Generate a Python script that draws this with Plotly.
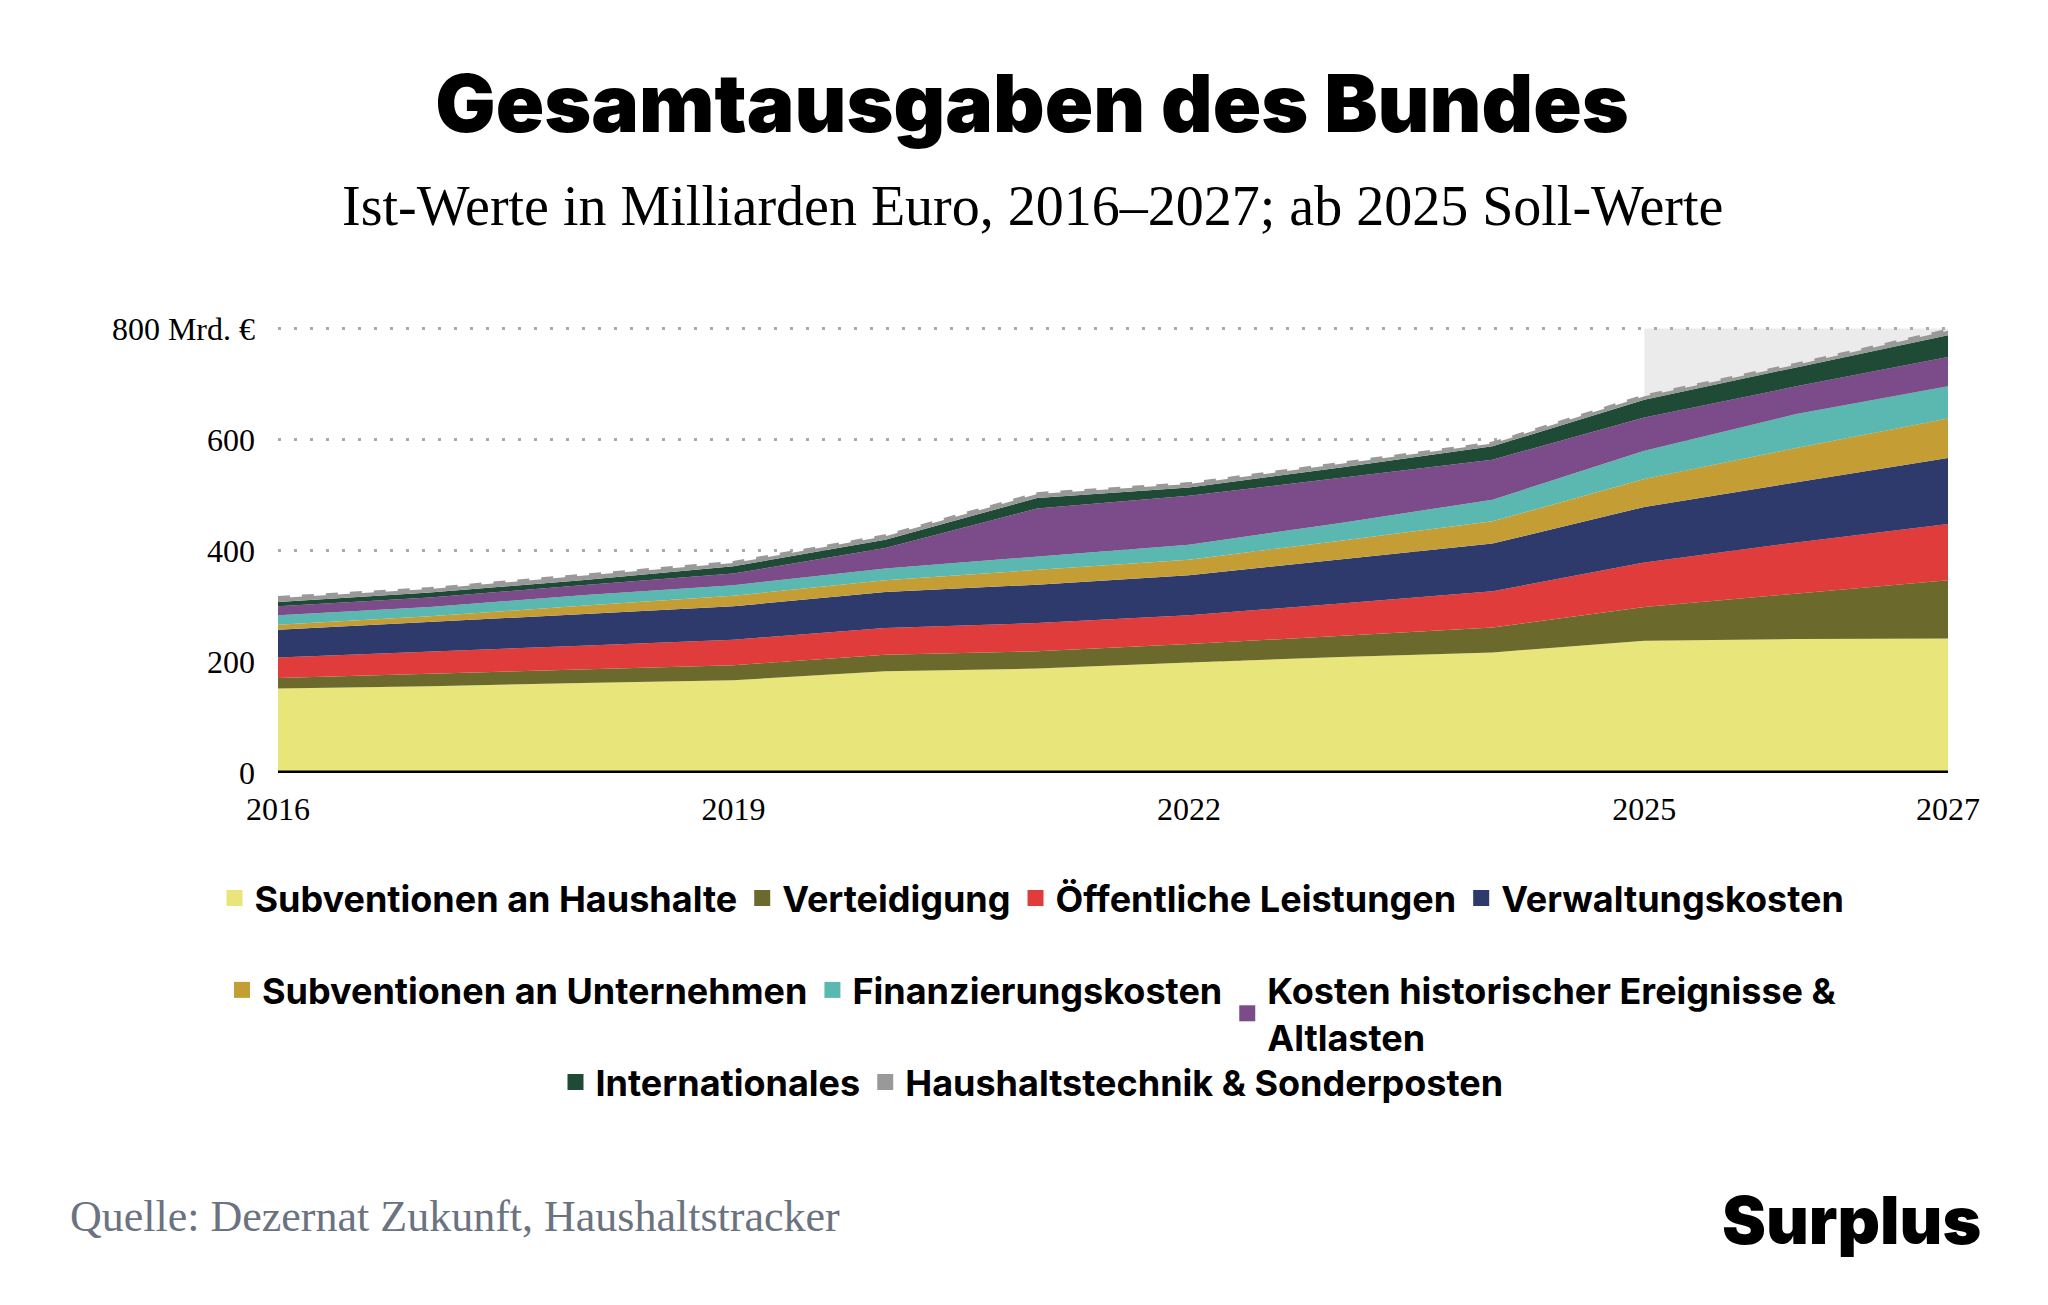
import plotly.graph_objects as go

years = list(range(2016, 2028))
haushalte = [152,156,162,167,183,188,199,209,217,238,241,242]
verteidigung = [19,23,25,27,30,31,33,38,45,61,82,105]
leistungen = [37,39,42,46,48,51,52,58,65,80,92,101]
verwaltung = [50,54,56,60,65,69,72,80,86,100,108,119]
unternehmen = [9,10,16,19,21,26,28,33,40,50,62,71]
finanzierung = [17,17,19,19,21,25,27,32,39,51,61,58]
historisch = [16,17,18,21,37,86,88,82,72,60,50,53]
international = [8,9,9,13,15,19,15,18,24,32,34,39]
technik = [7,6,8,6,6,7,6,6,5,6,5,8]

series = [
    ("Subventionen an Haushalte", haushalte, "#e8e67a", "legend"),
    ("Verteidigung", verteidigung, "#6b6a2c", "legend"),
    ("Öffentliche Leistungen", leistungen, "#e03c3c", "legend"),
    ("Verwaltungskosten", verwaltung, "#2d3a6b", "legend"),
    ("Subventionen an Unternehmen", unternehmen, "#c49e35", "legend2"),
    ("Finanzierungskosten", finanzierung, "#5bb8b0", "legend2"),
    ("Kosten historischer Ereignisse &<br>Altlasten", historisch, "#7b4b8a", "legend2"),
    ("Internationales", international, "#1f4a36", "legend3"),
    ("Haushaltstechnik & Sonderposten", technik, "#999999", "legend3"),
]

L, R, T, B = 270, 108, 315, 540
W, H = 2048, 1305
ph = H - T - B
pw = W - L - R
bottom = H - B

fig = go.Figure()
for name, vals, col, lg in series:
    last = name.startswith("Haushaltstechnik")
    fig.add_trace(go.Scatter(
        x=years, y=vals, name=name, stackgroup="one", mode="lines",
        fillcolor=col, showlegend=False,
        line=dict(width=4 if last else 0, color="#999999" if last else col, dash="dash"),
        hoverinfo="skip",
    ))
for name, vals, col, lg in series:
    fig.add_trace(go.Scatter(
        x=[None], y=[None], name=name, mode="markers", legend=lg,
        marker=dict(symbol="square", size=28, color=col),
    ))

fig.add_shape(type="rect", xref="x", yref="y", x0=2025, x1=2027, y0=0, y1=800,
              fillcolor="#ebebeb", line_width=0, layer="below")
fig.add_shape(type="line", xref="paper", yref="y", x0=0, x1=1, y0=0, y1=0,
              line=dict(color="black", width=5))

lfont = dict(family="Inter", size=36, color="black", weight="bold")
def leg(ypx):
    return dict(orientation="h", x=(W/2 - L)/pw, xanchor="center",
                y=-(ypx - bottom)/ph, yanchor="top", font=lfont,
                itemsizing="trace", traceorder="normal", bgcolor="rgba(0,0,0,0)")

fig.update_layout(
    width=W, height=H,
    paper_bgcolor="white", plot_bgcolor="white",
    margin=dict(l=L, r=R, t=T, b=B),
    title=dict(text="Gesamtausgaben des Bundes", x=0.5, xanchor="center",
               y=1 - 96/H, yanchor="middle",
               font=dict(family="Inter", size=80, color="black", weight=900)),
    xaxis=dict(range=[2016, 2027], tickvals=[2016, 2019, 2022, 2025, 2027],
               showgrid=False, zeroline=False, ticks="", ticklabelstandoff=14,
               tickfont=dict(family="Liberation Serif", size=32, color="black")),
    yaxis=dict(range=[0, 810], tickvals=[0, 200, 400, 600, 800],
               ticktext=["0", "200", "400", "600", "800 Mrd. €"],
               showgrid=True, gridcolor="#aaaaaa", griddash="3px,13px", gridwidth=3,
               zeroline=False, ticks="", ticklabelstandoff=22,
               tickfont=dict(family="Liberation Serif", size=32, color="black")),
    legend=leg(860),
    legend2=leg(952),
    legend3=leg(1044),
)
fig.add_annotation(text="Ist-Werte in Milliarden Euro, 2016–2027; ab 2025 Soll-Werte",
                   xref="paper", yref="paper", x=(W/2 - L)/pw, y=(bottom - 198)/ph,
                   yanchor="middle", showarrow=False,
                   font=dict(family="Liberation Serif", size=56, color="black"))
fig.add_annotation(text="Quelle: Dezernat Zukunft, Haushaltstracker", xref="paper", yref="paper",
                   x=-(L - 60)/pw, xanchor="left", y=-(1208 - bottom)/ph, yanchor="middle",
                   showarrow=False, font=dict(family="Liberation Serif", size=44, color="#6b7280"))
fig.add_annotation(text="Surplus", xref="paper", yref="paper",
                   x=(1975 - L)/pw, xanchor="right", y=-(1212 - bottom)/ph, yanchor="middle",
                   showarrow=False, font=dict(family="Inter", size=66, color="black", weight=900))

fig.write_html("out.html")
